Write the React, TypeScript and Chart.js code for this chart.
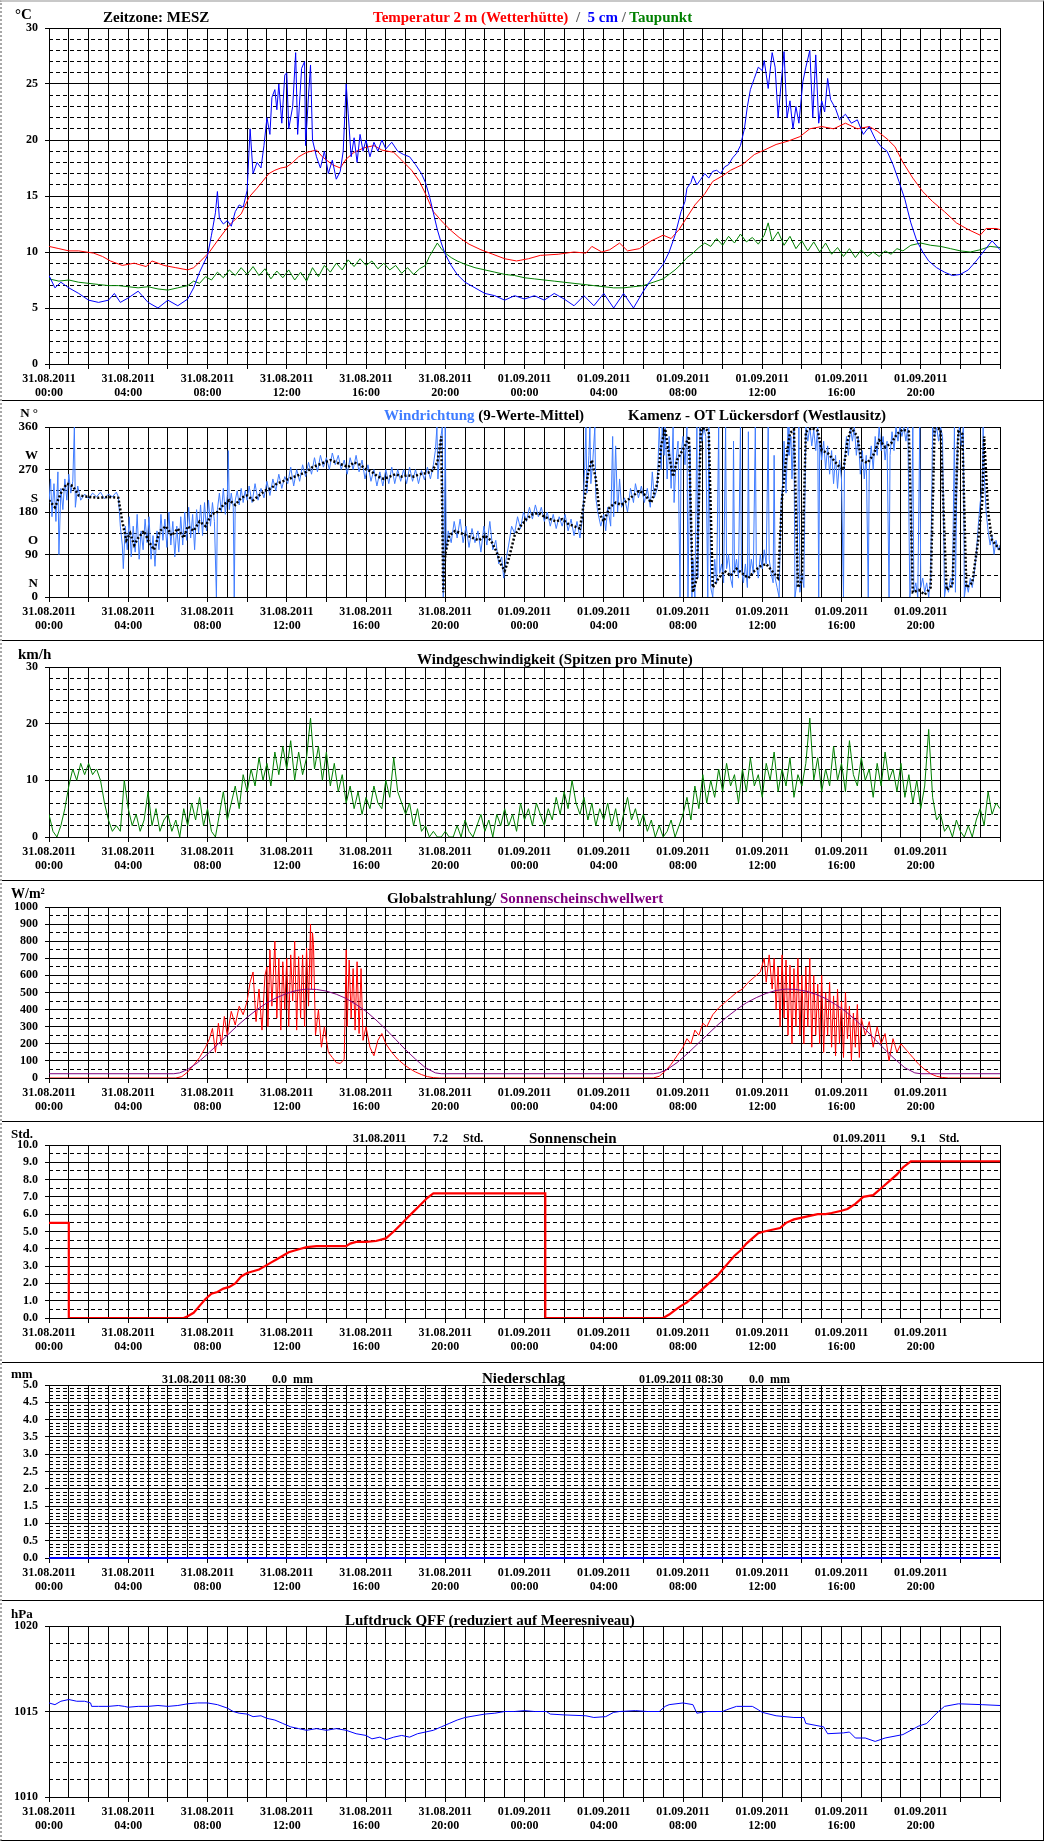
import React, { useEffect, useRef } from 'react';
import { Chart, registerables } from 'chart.js';
Chart.register(...registerables);

const FONT = '"Liberation Serif", "Times New Roman", serif';
const W = 1052;
const PLOT_LEFT = 49;
const PLOT_RIGHT = 1000;
const DIR_BLUE = '#3f7cff';

// ---------- tick labels ----------
const X_TICK_HOURS = [0, 4, 8, 12, 16, 20, 24, 28, 32, 36, 40, 44];
const X_TICK_DATES = ['31.08.2011', '31.08.2011', '31.08.2011', '31.08.2011', '31.08.2011', '31.08.2011',
  '01.09.2011', '01.09.2011', '01.09.2011', '01.09.2011', '01.09.2011', '01.09.2011'];
const X_TICK_TIMES = ['00:00', '04:00', '08:00', '12:00', '16:00', '20:00', '00:00', '04:00', '08:00', '12:00', '16:00', '20:00'];
const DIR_TICKS = [0, 90, 180, 270, 360];
const DIR_LETTERS = ['N', 'O', 'S', 'W', 'N °'];

type Pt = [number, number];

// ---------- Panel 1: temperatures (hour, °C) ----------
const TEMP_2M: Pt[] = [[0,10.5],[0.5,10.3],[1,10.1],[1.5,10.1],[2.25,9.9],[2.7,9.6],[3.1,9.2],[3.7,8.8],[4.3,9.0],[4.9,8.7],[5.2,9.2],[5.5,9.0],[5.8,8.8],[6.4,8.6],[7.0,8.4],[7.3,8.6],[7.6,9.1],[8.1,10.0],[8.5,11.0],[9.1,12.4],[9.7,13.4],[10.1,14.9],[10.5,15.7],[11.1,17.0],[11.4,17.3],[11.7,17.5],[12.0,17.6],[12.3,18.0],[12.6,18.5],[13.0,18.9],[13.5,19.1],[13.8,18.5],[14.3,17.8],[14.7,17.5],[15.0,18.3],[15.4,18.9],[15.9,19.3],[16.4,19.5],[16.8,19.1],[17.4,18.9],[17.8,18.2],[18.3,17.3],[18.7,16.3],[19.0,15.2],[19.4,13.6],[19.9,12.6],[20.3,11.9],[20.7,11.3],[21.2,10.7],[21.8,10.2],[22.4,9.8],[23.0,9.4],[23.6,9.2],[24.2,9.4],[24.8,9.7],[25.7,9.8],[26.5,10.0],[27.1,9.9],[27.4,10.5],[27.9,10.0],[28.3,10.2],[28.8,10.8],[29.2,10.1],[29.8,10.3],[30.4,11.0],[31.0,11.5],[31.4,11.2],[31.8,12.0],[32.2,13.1],[32.6,14.2],[33.1,15.2],[33.5,16.3],[34.0,16.8],[34.4,17.3],[35.0,17.8],[35.6,18.7],[36.1,19.1],[36.7,19.6],[37.3,19.9],[37.9,20.3],[38.4,21.0],[39.0,21.2],[39.6,21.0],[40.2,21.5],[40.8,21.0],[41.4,21.2],[41.8,20.8],[42.3,20.1],[42.7,19.4],[43.1,18.0],[43.6,16.6],[44.1,15.4],[44.6,14.5],[45.2,13.6],[45.8,12.6],[46.4,12.0],[47.0,11.5],[47.3,12.1],[47.8,12.1],[48.0,12.0]];

const TEMP_5CM: Pt[] = [[0,7.9],[0.3,6.8],[0.6,7.3],[1.0,6.8],[1.5,6.3],[2.0,5.7],[2.5,5.5],[3.0,5.7],[3.3,6.3],[3.6,5.5],[4.0,5.9],[4.5,6.5],[5.0,5.5],[5.5,5.0],[6.0,5.7],[6.5,5.2],[7.0,5.8],[7.3,6.8],[7.6,8.2],
  [8.0,9.7],[8.2,11.5],[8.4,13.5],[8.5,15.4],[8.6,13],[8.8,12.5],[9.0,12.8],[9.2,12.3],[9.4,13.6],[9.6,14.2],[9.8,14.0],[10.0,15.5],[10.15,21.0],[10.3,17.0],[10.5,18.0],[10.7,17.5],[10.85,19.5],[11.0,22.0],[11.15,20.5],[11.25,23.8],[11.4,24.5],[11.5,22.7],[11.6,25.0],[11.75,21.5],[11.9,25.8],[12.0,26.0],[12.1,21.0],[12.3,23],[12.45,27.8],[12.55,20.5],[12.75,26.4],[12.9,27.0],[12.95,19.5],[13.1,24],[13.2,26.7],[13.3,20],[13.5,18.5],[13.7,17.5],[13.9,19],[14.1,17],[14.3,18.2],[14.5,16.5],[14.7,17.2],[14.85,19],[15.0,25.0],[15.1,22.4],[15.25,18.5],[15.4,20.2],[15.55,18],[15.7,20.5],[15.85,19],[16.0,20],[16.2,18.5],[16.4,19.8],[16.6,19],[16.8,20],[17.0,19.2],[17.3,19.8],[17.6,19],[17.9,18.7],[18.2,18.5],[18.5,17.8],[18.8,17],[19.0,16.2],[19.2,15],[19.4,13.5],[19.6,12],[19.8,10.8],[20.0,9.8],[20.3,8.8],[20.6,8.0],[21.0,7.3],
  [21.5,6.8],[22.0,6.3],[22.5,6.1],[23.0,5.7],[23.5,6.1],[24.0,5.8],[24.5,6.1],[25.0,5.7],[25.5,6.3],[26.0,5.8],[26.5,5.2],[27.0,6.1],[27.5,5.2],[28.0,6.3],[28.5,5.0],[29.0,6.3],[29.5,5.0],
  [30.0,6.5],[30.3,7.3],[30.7,8.2],[31.0,8.9],[31.3,10],[31.6,11.5],[31.9,13.6],[32.1,14.5],[32.2,15.7],[32.4,16.2],[32.5,16.8],[32.7,16.0],[32.9,16.5],[33.1,17],[33.3,16.6],[33.5,17.2],[33.7,17.3],[33.9,17.0],[34.1,17.6],[34.3,17.8],[34.5,18.4],[34.7,18.8],[34.9,19.5],[35.1,21],[35.25,23.0],[35.4,24.5],[35.6,25.5],[35.8,26.5],[36.0,26.2],[36.1,27.1],[36.3,24.6],[36.5,27.8],[36.65,26.5],[36.8,22.0],[36.95,25],[37.1,27.9],[37.25,22],[37.4,23.5],[37.55,21.0],[37.7,23],[37.85,21.5],[38.05,25.2],[38.2,26.5],[38.4,28.0],[38.55,22],[38.7,27.6],[38.85,21.5],[39.0,23.5],[39.15,22.5],[39.3,25.5],[39.45,23.6],[39.7,22.8],[39.9,21.8],[40.2,22.3],[40.5,21.5],[40.8,21.8],[41.1,20.5],[41.4,21.2],[41.7,20.1],[42.0,19.4],[42.3,19.0],[42.6,17.8],[42.9,16.3],[43.2,14.7],[43.5,12.6],[43.8,11],[44.1,10],[44.4,9.2],[44.8,8.6],[45.2,8.2],[45.6,7.9],[46.0,8.0],[46.4,8.4],[46.8,9.2],[47.2,10.1],[47.6,11.0],[48.0,10.2]];

const DEW_POINT: Pt[] = [[0,7.6],[0.5,7.4],[1,7.5],[1.5,7.3],[2,7.2],[2.5,7.1],[3,7.0],[3.5,7.0],[4,6.9],[4.5,6.8],[5,6.9],[5.5,6.7],[6,6.6],[6.5,6.8],[7,7.0],[7.3,7.4],[7.6,7.2],[7.9,7.8],[8.2,7.5],[8.5,8.2],[8.8,7.7],[9.1,8.4],[9.4,7.9],[9.7,8.6],[10,8.0],[10.3,8.7],[10.6,7.9],[10.9,8.5],[11.2,7.6],[11.5,8.3],[11.8,7.7],[12.1,8.4],[12.4,7.5],[12.7,8.2],[13,7.4],[13.3,8.6],[13.6,7.8],[13.9,8.8],[14.2,8.2],[14.5,9.0],[14.8,8.4],[15.1,9.3],[15.4,8.7],[15.7,9.4],[16,8.8],[16.3,9.2],[16.6,8.5],[16.9,9.0],[17.2,8.4],[17.5,8.8],[17.8,8.1],[18.1,8.6],[18.4,8.0],[18.7,8.5],[19.0,8.8],[19.2,9.6],[19.4,10.2],[19.6,10.8],[19.8,10.3],[20,9.9],[20.3,9.5],[20.6,9.2],[21,8.9],[21.5,8.6],[22,8.4],[22.5,8.2],[23,8.0],[23.5,7.9],[24,7.7],[24.5,7.6],[25,7.5],[25.5,7.4],[26,7.3],[26.5,7.2],[27,7.1],[27.5,7.0],[28,6.9],[28.5,6.8],[29,6.8],[29.5,6.9],[30,7.0],[30.5,7.3],[31,7.6],[31.3,8.0],[31.6,8.4],[31.9,8.9],[32.2,9.5],[32.5,9.9],[32.8,10.4],[33.1,10.8],[33.4,10.5],[33.7,11.2],[34,10.6],[34.3,11.4],[34.6,10.8],[34.9,11.6],[35.2,10.9],[35.5,11.3],[35.8,10.7],[36.1,11.5],[36.3,12.6],[36.5,11.0],[36.8,11.8],[37.1,10.6],[37.4,11.4],[37.7,10.3],[38,11.0],[38.3,10.1],[38.6,10.9],[38.9,10.0],[39.2,10.8],[39.5,9.8],[39.8,10.4],[40.1,9.6],[40.4,10.3],[40.7,9.5],[41,10.2],[41.3,9.6],[41.6,10.0],[41.9,9.6],[42.2,10.1],[42.5,9.8],[42.8,10.3],[43.1,10.1],[43.5,10.6],[44,10.8],[44.5,10.6],[45,10.5],[45.5,10.3],[46,10.1],[46.5,10.0],[47,10.2],[47.5,10.5],[48,10.4]];

// ---------- Panel 2: wind direction (hour, °) ----------
const WIND_DIR_RAW: Pt[] = [[0,200],[0.08,250],[0.15,170],[0.25,240],[0.35,160],[0.45,265],[0.5,90],[0.6,230],[0.7,185],[0.8,250],[0.9,205],[1.0,260],[1.1,220],[1.2,245],[1.28,360],[1.33,190],[1.45,235],[1.6,205],
  [1.8,218],[2.0,208],[2.2,220],[2.4,212],[2.6,222],[2.8,208],[3.0,218],[3.2,212],[3.4,222],[3.5,212],
  [3.6,150],[3.7,110],[3.75,60],[3.85,150],[3.95,100],[4.05,170],[4.15,85],[4.25,150],[4.35,95],[4.45,175],[4.55,80],[4.65,140],[4.75,100],[4.85,165],[4.95,115],[5.05,170],[5.15,80],[5.25,130],[5.35,65],[5.45,140],[5.55,100],[5.65,175],[5.75,120],[5.85,165],[5.95,105],[6.05,180],[6.15,110],[6.25,160],[6.35,85],[6.45,150],[6.55,95],[6.65,170],[6.75,110],[6.85,180],[6.95,120],[7.05,190],[7.15,125],[7.25,175],[7.35,100],[7.45,185],[7.55,135],[7.65,195],[7.75,130],[7.85,200],[7.95,140],[8.05,205],[8.15,150],[8.25,200],[8.35,160],[8.45,0],[8.5,185],[8.6,220],[8.7,180],[8.8,230],[8.9,175],[9.0,215],[9.05,310],[9.1,185],[9.2,220],[9.3,190],[9.35,0],[9.4,205],[9.5,225],[9.6,195],[9.7,230],[9.8,200],[9.9,225],[10.0,205],[10.1,235],
  [10.25,200],[10.4,240],[10.55,205],[10.7,230],[10.85,210],[11.0,245],[11.15,215],[11.3,250],[11.45,225],[11.6,260],[11.75,230],[11.9,255],[12.05,240],[12.2,275],[12.35,235],[12.5,270],[12.65,245],[12.8,280],[12.95,255],[13.1,285],[13.25,260],[13.4,295],[13.55,265],[13.7,300],[13.85,275],[14.0,295],[14.15,270],[14.3,305],[14.45,280],[14.6,300],[14.75,270],[14.9,290],[15.05,260],[15.2,295],[15.35,270],[15.5,300],[15.65,265],[15.8,290],[15.95,250],[16.1,280],[16.25,245],[16.4,270],[16.55,235],[16.7,265],[16.85,235],[17.0,270],[17.15,240],[17.3,275],[17.45,240],[17.6,270],[17.75,245],[17.9,270],[18.05,240],[18.2,275],[18.35,245],[18.5,270],[18.65,240],[18.8,268],[18.95,248],[19.1,275],[19.25,250],[19.4,280],[19.5,310],[19.58,360],[19.63,250],[19.75,330],[19.85,360],[19.9,0],[19.95,110],[20.0,360],[20.05,100],
  [20.15,140],[20.3,115],[20.45,160],[20.6,125],[20.75,165],[20.9,115],[21.05,150],[21.2,105],[21.35,145],[21.5,115],[21.65,140],[21.8,95],[21.95,150],[22.1,110],[22.25,160],[22.4,100],[22.55,120],[22.7,70],[22.85,85],[22.95,40],[23.05,75],[23.2,110],[23.35,150],[23.5,135],[23.65,170],[23.8,145],[23.95,180],
  [24.1,160],[24.25,190],[24.4,165],[24.55,195],[24.7,170],[24.85,190],[25.0,160],[25.15,180],[25.3,150],[25.45,175],[25.6,145],[25.75,170],[25.9,150],[26.05,175],[26.2,140],[26.35,165],[26.5,130],[26.65,160],[26.8,125],[26.95,175],[27.05,290],[27.1,360],[27.15,220],[27.25,300],[27.3,360],[27.35,240],[27.45,290],[27.55,360],[27.6,210],[27.7,180],[27.85,150],[28.0,175],[28.1,140],[28.2,190],[28.35,150],[28.45,340],[28.5,170],[28.6,320],[28.7,180],[28.8,250],[28.9,190],[29.05,210],[29.2,180],[29.35,230],[29.5,200],[29.6,240],[29.75,210],[29.9,235],[30.05,200],[30.2,230],[30.35,190],[30.45,265],[30.55,210],[30.7,230],[30.8,360],[30.9,270],[30.95,360],[31.05,300],[31.1,360],[31.2,250],[31.3,340],[31.4,230],[31.5,360],[31.55,200],[31.65,290],
  [31.75,330],[31.85,0],[31.9,300],[32.0,340],[32.1,280],[32.2,360],[32.25,0],[32.35,320],[32.45,0],[32.5,80],[32.6,0],[32.7,360],[32.75,40],[32.85,360],[32.95,330],[33.05,360],[33.15,340],[33.25,0],[33.3,360],[33.4,20],[33.5,0],[33.6,80],[33.7,30],[33.8,360],[33.85,50],[33.95,70],[34.05,30],[34.15,360],[34.2,60],[34.3,90],[34.4,40],[34.5,20],[34.55,330],[34.6,50],[34.7,80],[34.8,40],[34.9,360],[34.95,60],[35.05,30],[35.15,70],[35.25,20],[35.3,350],[35.35,40],[35.45,80],[35.55,50],[35.65,360],[35.7,70],[35.8,40],[35.9,90],[36.0,60],[36.1,100],[36.2,70],[36.3,360],[36.35,80],[36.45,50],[36.55,30],[36.6,300],[36.65,40],[36.75,20],[36.85,0],[36.95,200],[37.05,250],[37.1,330],[37.2,220],[37.3,360],[37.35,300],[37.45,340],[37.5,250],[37.6,360],[37.65,0],[37.75,30],[37.85,360],[37.9,10],[38.0,50],[38.1,20],[38.2,360],[38.3,330],[38.4,360],[38.5,320],[38.6,355],[38.7,310],[38.8,360],[38.85,0],[38.9,330],[39.0,290],[39.1,330],[39.2,270],[39.3,320],[39.4,260],[39.5,310],[39.6,240],[39.7,300],[39.8,230],[39.9,290],[40.0,250],[40.1,0],[40.15,280],[40.25,340],[40.35,300],[40.45,360],[40.55,330],[40.65,360],[40.75,300],[40.85,340],[40.95,260],[41.05,310],[41.15,250],[41.25,300],[41.35,0],[41.4,270],[41.5,320],[41.6,270],[41.7,340],[41.8,300],[41.9,360],[42.0,310],[42.1,340],[42.2,290],[42.3,330],[42.4,0],[42.45,300],[42.55,350],[42.65,310],[42.75,360],[42.85,330],[42.95,360],[43.05,340],[43.15,360],[43.25,330],[43.35,360],[43.45,0],[43.5,20],[43.6,360],[43.65,10],[43.75,30],[43.85,0],[43.95,360],[44.0,20],[44.1,40],[44.2,10],[44.3,30],[44.4,0],[44.5,40],[44.6,360],[44.7,340],[44.8,360],[44.9,330],[45.0,360],[45.1,340],[45.2,0],[45.3,30],[45.4,10],[45.5,40],[45.6,20],[45.7,360],[45.75,10],[45.85,330],[45.95,360],[46.05,320],[46.15,360],[46.2,0],[46.3,30],[46.4,10],[46.5,40],[46.6,20],[46.7,50],[46.8,90],[46.9,150],[47.0,200],[47.1,230],[47.15,360],[47.2,260],[47.3,180],[47.4,140],[47.5,110],[47.6,130],[47.7,90],[47.8,120],[47.9,100],[48.0,110]];

const WIND_DIR_MEAN: Pt[] = [[0,205],[0.3,190],[0.6,220],[0.9,240],[1.2,235],[1.5,215],[2,212],[2.5,210],[3,212],[3.5,210],[3.7,160],[3.9,120],[4.1,135],[4.3,110],[4.5,125],[4.8,140],[5.0,120],[5.3,100],[5.6,140],[5.9,150],[6.2,130],[6.5,145],[6.8,125],[7.0,150],[7.3,140],[7.6,160],[7.9,150],[8.2,175],[8.5,180],[8.8,195],[9.1,205],[9.4,195],[9.7,210],[10,215],[10.3,205],[10.6,215],[10.9,225],[11.2,230],[11.5,240],[11.8,245],[12.1,250],[12.4,255],[12.7,260],[13,265],[13.3,275],[13.6,280],[13.9,285],[14.2,290],[14.5,285],[14.8,280],[15.1,275],[15.4,285],[15.7,280],[16,270],[16.3,265],[16.6,255],[16.9,250],[17.2,255],[17.5,260],[17.8,255],[18.1,258],[18.4,255],[18.7,260],[19,262],[19.3,265],[19.6,285],[19.8,340],[19.9,10],[20.0,90],[20.2,130],[20.5,140],[20.8,135],[21.1,130],[21.4,125],[21.7,120],[22,130],[22.3,120],[22.6,95],[22.8,70],[23,55],[23.2,80],[23.5,130],[23.8,150],[24.1,165],[24.4,175],[24.7,178],[25,170],[25.3,165],[25.6,160],[25.9,165],[26.2,155],[26.5,150],[26.8,145],[27.0,200],[27.2,260],[27.4,290],[27.6,250],[27.8,175],[28.0,160],[28.3,190],[28.6,200],[28.9,195],[29.2,205],[29.5,215],[29.8,225],[30.1,215],[30.4,200],[30.7,240],[30.9,320],[31.1,356],[31.3,300],[31.5,255],[31.7,290],[31.9,305],[32.1,320],[32.3,340],[32.5,10],[32.7,40],[32.9,355],[33.1,358],[33.3,350],[33.5,20],[33.8,40],[34.1,55],[34.4,45],[34.7,60],[35,50],[35.3,40],[35.6,55],[35.9,65],[36.2,70],[36.5,55],[36.8,40],[37.0,210],[37.2,290],[37.4,347],[37.6,355],[37.8,20],[38.0,35],[38.2,350],[38.5,358],[38.8,352],[39.0,310],[39.3,305],[39.6,290],[39.9,275],[40.1,270],[40.3,330],[40.5,358],[40.8,340],[41.0,290],[41.3,284],[41.6,300],[41.9,332],[42.2,318],[42.5,325],[42.8,345],[43.1,355],[43.4,350],[43.6,10],[43.9,15],[44.2,5],[44.5,20],[44.7,358],[45.0,355],[45.3,15],[45.6,25],[45.9,350],[46.1,345],[46.3,20],[46.6,30],[46.9,120],[47.1,200],[47.2,340],[47.4,180],[47.6,120],[47.8,110],[48,100]];

// ---------- Panel 3: wind speed (km/h), one value every 0.2 h ----------
const WIND_SPEED_STEP_H = 0.2;
const WIND_SPEED: number[] = [
  4,1,0,2,5, 9,12,10,13,11, 13,11,12,10,6, 3,1,2,1,10, 5,2,4,1,3, 8,2,5,1,3, 4,1,3,0,5, 2,6,3,7,2,
  5,1,0,4,8, 3,6,9,5,11, 8,12,9,14,10, 13,9,15,11,16, 12,17,10,15,11, 14,21,12,16,10, 15,9,13,8,11, 6,9,5,8,4,
  7,5,9,6,5, 10,7,14,8,6, 4,6,2,5,1, 2,0,1,0,0, 1,0,0,2,0, 3,1,0,2,4, 1,3,0,4,2, 5,2,4,1,6,
  3,5,2,6,4, 2,5,3,7,4, 8,5,10,6,4, 7,3,6,2,5, 3,6,2,5,1, 4,7,3,5,2, 4,1,3,0,2, 0,1,3,0,2,
  4,7,3,9,5, 11,6,10,7,12, 8,13,9,11,6, 12,8,14,9,11, 7,13,10,15,8, 12,9,14,7,11, 9,13,21,10,14, 8,12,9,16,10,
  13,8,17,11,9, 14,10,12,7,13, 9,15,10,12,8, 13,7,11,6,10, 5,9,19,7,3, 4,1,2,0,3, 1,0,2,0,3, 5,2,8,4,6, 5];

// ---------- Panel 4: global radiation (W/m²) ----------
const GLOBAL_RAD: Pt[] = [[0,0],[6.4,0],[6.7,8],[7.0,35],[7.3,75],[7.6,120],[7.9,180],[8.1,230],[8.25,290],[8.4,150],[8.55,320],[8.7,190],[8.85,360],[9.0,250],[9.2,390],[9.4,310],[9.6,420],[9.8,370],[10.0,450],[10.15,560],[10.3,620],[10.45,330],[10.6,520],[10.75,280],[10.9,600],[11.0,650],[11.05,300],[11.15,750],[11.25,420],[11.4,800],[11.5,350],[11.6,700],[11.7,280],[11.8,680],[11.9,400],[12.0,700],[12.1,300],[12.2,720],[12.3,450],[12.4,800],[12.5,280],[12.6,710],[12.7,350],[12.8,720],[12.9,300],[13.0,760],[13.1,420],[13.2,900],[13.25,520],[13.3,850],[13.35,780],[13.45,250],[13.6,400],[13.75,180],[13.9,300],[14.1,150],[14.3,120],[14.5,90],[14.7,85],[14.9,110],[15.0,750],[15.05,300],[15.15,690],[15.25,350],[15.35,640],[15.45,280],[15.55,680],[15.65,260],[15.75,640],[15.85,220],[16.0,300],[16.2,180],[16.4,130],[16.6,220],[16.8,260],[17.0,200],[17.3,150],[17.6,110],[17.9,80],[18.2,55],[18.5,35],[18.8,20],[19.1,8],[19.4,2],[19.7,0],
  [30.5,0],[30.8,10],[31.1,40],[31.4,80],[31.7,130],[32.0,180],[32.2,230],[32.4,200],[32.6,280],[32.8,250],[33.0,320],[33.2,300],[33.5,370],[33.8,410],[34.1,440],[34.4,470],[34.7,500],[35.0,520],[35.3,560],[35.6,590],[35.9,620],[36.1,700],[36.2,560],[36.35,720],[36.5,520],[36.6,700],[36.7,400],[36.8,650],[36.9,300],[37.0,720],[37.1,350],[37.2,690],[37.3,250],[37.4,660],[37.5,200],[37.6,640],[37.7,300],[37.8,700],[37.9,250],[38.0,600],[38.1,200],[38.2,650],[38.3,300],[38.4,700],[38.5,180],[38.6,600],[38.7,250],[38.8,550],[38.9,200],[39.0,600],[39.1,150],[39.2,500],[39.3,250],[39.4,560],[39.5,180],[39.6,480],[39.7,130],[39.8,520],[39.9,200],[40.0,450],[40.1,120],[40.2,500],[40.3,230],[40.4,420],[40.5,100],[40.6,380],[40.7,180],[40.8,430],[40.9,120],[41.0,350],[41.2,250],[41.4,330],[41.6,180],[41.8,300],[42.0,200],[42.2,260],[42.4,100],[42.6,230],[42.8,150],[43.0,200],[43.3,160],[43.6,120],[43.9,80],[44.2,50],[44.5,25],[44.8,10],[45.1,3],[45.4,0],[48,0]];

const SUN_THRESHOLD: Pt[] = [[0,25],[6.3,25],[6.6,30],[7.0,50],[7.5,90],[8.0,140],[8.5,195],[9.0,250],[9.5,305],[10.0,355],[10.5,400],[11.0,440],[11.5,470],[12.0,495],[12.5,512],[13.0,520],[13.5,518],[14.0,508],[14.5,490],[15.0,465],[15.5,430],[16.0,390],[16.5,340],[17.0,285],[17.5,225],[18.0,165],[18.5,110],[19.0,60],[19.5,30],[19.8,25],
  [30.5,25],[30.8,30],[31.2,50],[31.7,90],[32.2,140],[32.7,195],[33.2,250],[33.7,305],[34.2,355],[34.7,400],[35.2,440],[35.7,470],[36.2,495],[36.7,512],[37.2,520],[37.7,518],[38.2,508],[38.7,490],[39.2,465],[39.7,430],[40.2,390],[40.7,340],[41.2,285],[41.7,225],[42.2,165],[42.7,110],[43.2,60],[43.7,30],[44.0,25],[48,25]];

// ---------- Panel 5: sunshine duration (h, cumulative) ----------
const SUNSHINE: Pt[] = [[0,5.5],[1.0,5.5],[1.0,0],[6.8,0],[7.0,0.1],[7.3,0.3],[7.6,0.7],[7.9,1.1],[8.2,1.4],[8.5,1.5],[8.8,1.7],[9.1,1.8],[9.4,2.0],[9.7,2.4],[10.0,2.6],[10.3,2.7],[10.6,2.8],[10.9,3.0],[11.2,3.2],[11.5,3.4],[11.8,3.6],[12.1,3.8],[12.4,3.9],[12.7,4.0],[13.0,4.1],[13.5,4.15],[14.0,4.15],[14.5,4.15],[15.0,4.15],[15.2,4.3],[15.5,4.4],[16.0,4.4],[16.5,4.45],[17.0,4.6],[17.4,5.0],[17.8,5.45],[18.0,5.7],[18.4,6.15],[18.8,6.6],[19.1,6.95],[19.4,7.2],[25.05,7.2],[25.05,0],[31.0,0],[31.3,0.2],[31.6,0.45],[31.9,0.7],[32.2,0.9],[32.5,1.2],[32.8,1.5],[33.1,1.8],[33.4,2.1],[33.7,2.4],[34.0,2.8],[34.3,3.2],[34.6,3.6],[34.9,3.9],[35.2,4.3],[35.5,4.6],[35.8,4.9],[36.1,5.0],[36.5,5.1],[36.9,5.2],[37.2,5.5],[37.6,5.7],[38.0,5.8],[38.4,5.9],[38.8,6.0],[39.2,6.0],[39.5,6.07],[40.0,6.2],[40.3,6.3],[40.7,6.6],[41.1,7.0],[41.6,7.1],[42.0,7.5],[42.4,7.9],[42.8,8.3],[43.1,8.7],[43.5,9.06],[48,9.06]];

// ---------- Panel 6: precipitation (mm) ----------
const PRECIP: Pt[] = [[0,0],[8.5,0],[24,0],[32.5,0],[48,0]];

// ---------- Panel 7: pressure QFF (hPa) ----------
const PRESSURE: Pt[] = [[0,1015.5],[0.3,1015.4],[0.6,1015.6],[1.0,1015.7],[1.4,1015.6],[1.8,1015.6],[2.1,1015.5],[2.15,1015.3],[2.5,1015.3],[3.0,1015.3],[3.5,1015.35],[3.8,1015.3],[4.0,1015.25],[4.5,1015.3],[5.0,1015.3],[5.5,1015.35],[6.0,1015.3],[6.5,1015.35],[7.0,1015.45],[7.5,1015.5],[8.0,1015.5],[8.5,1015.4],[9.0,1015.2],[9.3,1015.0],[9.6,1014.9],[10.0,1014.85],[10.3,1014.7],[10.7,1014.75],[11.0,1014.6],[11.4,1014.5],[11.8,1014.3],[12.2,1014.1],[12.6,1014.0],[13.0,1013.9],[13.5,1014.0],[14.0,1013.9],[14.5,1014.0],[15.0,1013.9],[15.5,1013.7],[16.0,1013.6],[16.3,1013.4],[16.7,1013.5],[17.0,1013.35],[17.4,1013.5],[17.8,1013.6],[18.2,1013.5],[18.6,1013.7],[19.0,1013.8],[19.4,1013.9],[19.8,1014.1],[20.2,1014.3],[20.6,1014.5],[21.0,1014.65],[21.5,1014.75],[22.0,1014.85],[22.5,1014.9],[23.0,1015.0],[23.5,1015.0],[24.0,1015.05],
  [24.5,1015.0],[25.1,1015.0],[25.3,1014.85],[26.0,1014.8],[27.1,1014.75],[27.5,1014.65],[28.1,1014.7],[28.5,1014.95],[28.8,1015.0],[29.6,1015.05],[30.2,1015.0],[30.8,1015.0],[31.1,1015.3],[31.3,1015.4],[32.0,1015.5],[32.5,1015.4],[32.7,1014.9],[33.2,1015.0],[34.0,1015.0],[34.2,1015.1],[34.7,1015.3],[35.5,1015.3],[35.8,1015.1],[36.0,1014.95],[36.7,1014.75],[37.6,1014.65],[38.1,1014.65],[38.2,1014.3],[39.1,1014.1],[39.3,1013.7],[40.1,1013.75],[40.4,1013.8],[40.7,1013.45],[41.2,1013.45],[41.7,1013.25],[42.2,1013.45],[43.1,1013.65],[43.9,1014.15],[44.3,1014.3],[44.8,1014.9],[45.2,1015.3],[45.9,1015.45],[47.1,1015.4],[48,1015.35]];

// ---------- helpers ----------
const xy = (arr: Pt[]) => arr.map(([x, y]) => ({ x, y }));
const xyRegular = (vals: number[], step: number) => vals.map((y, i) => ({ x: i * step, y }));
const line = (data: any[], color: string, width = 1, extra: any = {}) => ({
  data, borderColor: color, backgroundColor: color, borderWidth: width,
  pointRadius: 0, tension: 0, fill: false, yAxisID: 'y', ...extra,
});

const xLabel = (v: number) => {
  const i = X_TICK_HOURS.indexOf(v);
  return i >= 0 ? [X_TICK_DATES[i], X_TICK_TIMES[i]] : '';
};

interface PanelCfg {
  top: number; height: number; plotTop: number; plotBottom: number;
  yMin: number; yMax: number; major: number; minor: number;
  yLabel: (v: number) => any; yFont?: number; yLineHeight?: number;
  datasets: any[];
}

const PANELS: PanelCfg[] = [
  { top: 0, height: 400, plotTop: 28, plotBottom: 364, yMin: 0, yMax: 30, major: 5, minor: 1,
    yLabel: (v) => String(v),
    datasets: [line(xy(TEMP_5CM), '#0000ff'), line(xy(TEMP_2M), '#ff0000'), line(xy(DEW_POINT), '#008000')] },
  { top: 400, height: 240, plotTop: 427, plotBottom: 597, yMin: 0, yMax: 360, major: 90, minor: 45,
    yLabel: (v) => { const i = DIR_TICKS.indexOf(v); return [DIR_LETTERS[i] || '', String(v), '']; },
    yFont: 13, yLineHeight: 1.05,
    datasets: [line(xy(WIND_DIR_MEAN), '#000000', 2.5, { borderDash: [2, 2] }), line(xy(WIND_DIR_RAW), DIR_BLUE)] },
  { top: 640, height: 240, plotTop: 667, plotBottom: 837, yMin: 0, yMax: 30, major: 10, minor: 2,
    yLabel: (v) => String(v),
    datasets: [line(xyRegular(WIND_SPEED, WIND_SPEED_STEP_H), '#008000')] },
  { top: 880, height: 241, plotTop: 907, plotBottom: 1078, yMin: 0, yMax: 1000, major: 100, minor: 50,
    yLabel: (v) => String(v),
    datasets: [line(xy(SUN_THRESHOLD), '#800080'), line(xy(GLOBAL_RAD), '#ff0000')] },
  { top: 1121, height: 241, plotTop: 1145, plotBottom: 1318, yMin: 0, yMax: 10, major: 1, minor: 0.5,
    yLabel: (v) => v.toFixed(1),
    datasets: [line(xy(SUNSHINE), '#ff0000', 2.2)] },
  { top: 1362, height: 238, plotTop: 1385, plotBottom: 1558, yMin: 0, yMax: 5, major: 0.5, minor: 0.1,
    yLabel: (v) => v.toFixed(1),
    datasets: [line(xy(PRECIP), '#0000ff', 2, { clip: false })] },
  { top: 1600, height: 241, plotTop: 1626, plotBottom: 1797, yMin: 1010, yMax: 1020, major: 5, minor: 1,
    yLabel: (v) => String(v),
    datasets: [line(xy(PRESSURE), '#0000ff')] },
];

function PanelChart({ cfg }: { cfg: PanelCfg }) {
  const ref = useRef<HTMLCanvasElement>(null);
  useEffect(() => {
    const canvas = ref.current!;
    const isMajor = (v: number) => Math.abs(v / cfg.major - Math.round(v / cfg.major)) < 1e-6;
    const tickFont = { family: FONT, size: 12, weight: 'bold' as const, lineHeight: 1.15 };
    const chart = new Chart(canvas, {
      type: 'line',
      data: { datasets: cfg.datasets },
      options: {
        responsive: false,
        maintainAspectRatio: false,
        animation: false,
        events: [],
        parsing: false as any,
        layout: { padding: { top: cfg.plotTop - cfg.top, left: 0, right: W - PLOT_RIGHT, bottom: 0 } },
        plugins: { legend: { display: false }, tooltip: { enabled: false }, title: { display: false } },
        scales: {
          x: {
            type: 'linear', min: 0, max: 48,
            afterFit: (s: any) => { s.height = cfg.height - (cfg.plotBottom - cfg.top); s.paddingLeft = 0; s.paddingRight = 0; },
            ticks: {
              stepSize: 1, autoSkip: false, maxRotation: 0, minRotation: 0, padding: 3, maxTicksLimit: 100,
              color: '#000', font: tickFont, callback: (v: any) => xLabel(Number(v)),
            },
            grid: {
              color: '#000', lineWidth: 1, drawTicks: true, tickLength: 5,
              tickColor: (ctx: any) => (ctx.tick && Math.round(ctx.tick.value) % 2 === 0 ? '#000' : 'rgba(0,0,0,0)'),
            },
            border: { display: true, color: '#000' },
          },
          y: {
            type: 'linear', position: 'left', min: cfg.yMin, max: cfg.yMax,
            afterFit: (s: any) => { s.width = PLOT_LEFT; s.paddingTop = 0; s.paddingBottom = 0; },
            ticks: {
              stepSize: cfg.major, autoSkip: false, padding: 7, maxTicksLimit: 1000, color: '#000',
              font: { family: FONT, size: cfg.yFont || 12, weight: 'bold' as const, lineHeight: cfg.yLineHeight || 1.15 },
              callback: (v: any) => cfg.yLabel(Number(v)),
            },
            grid: { color: '#000', lineWidth: 1, drawTicks: true, tickLength: 4, tickColor: '#000' },
            border: { display: true, color: '#000' },
          },
          y2: {
            type: 'linear', position: 'left', min: cfg.yMin, max: cfg.yMax,
            afterFit: (s: any) => { s.width = 0; s.paddingTop = 0; s.paddingBottom = 0; },
            ticks: { display: false, stepSize: cfg.minor, autoSkip: false, maxTicksLimit: 1000 },
            grid: {
              drawTicks: false, lineWidth: 1,
              color: (ctx: any) => (ctx.tick && isMajor(ctx.tick.value) ? 'rgba(0,0,0,0)' : '#000'),
            },
            border: { display: false, dash: [4, 3] },
          },
        },
      } as any,
    });
    return () => chart.destroy();
  }, []);
  return (
    <canvas ref={ref} width={W} height={cfg.height}
      style={{ position: 'absolute', left: 0, top: cfg.top, width: W, height: cfg.height, display: 'block' }} />
  );
}

type TextItem = { x: number; y: number; s?: number; parts: [string, string?][] };
const TEXTS: TextItem[] = [
  { x: 15, y: 14, s: 15, parts: [['°C']] },
  { x: 103, y: 17, s: 15, parts: [['Zeitzone: MESZ']] },
  { x: 373, y: 17, s: 15, parts: [['Temperatur 2 m (Wetterhütte)', '#ff0000'], ['  /  ', '#606060'], ['5 cm', '#0000ff'], [' / ', '#606060'], ['Taupunkt', '#008000']] },
  { x: 384, y: 415, s: 15, parts: [['Windrichtung', DIR_BLUE], [' (9-Werte-Mittel)']] },
  { x: 628, y: 415, s: 15, parts: [['Kamenz - OT Lückersdorf (Westlausitz)']] },
  { x: 18, y: 654, s: 15, parts: [['km/h']] },
  { x: 417, y: 659, s: 15, parts: [['Windgeschwindigkeit (Spitzen pro Minute)']] },
  { x: 11, y: 894, s: 14, parts: [['W/m²']] },
  { x: 387, y: 898, s: 15, parts: [['Globalstrahlung/ '], ['Sonnenscheinschwellwert', '#800080']] },
  { x: 11, y: 1133, s: 13, parts: [['Std.']] },
  { x: 353, y: 1138, s: 12, parts: [['31.08.2011']] },
  { x: 433, y: 1138, s: 12, parts: [['7.2']] },
  { x: 463, y: 1138, s: 12, parts: [['Std.']] },
  { x: 529, y: 1138, s: 15, parts: [['Sonnenschein']] },
  { x: 833, y: 1138, s: 12, parts: [['01.09.2011']] },
  { x: 911, y: 1138, s: 12, parts: [['9.1']] },
  { x: 939, y: 1138, s: 12, parts: [['Std.']] },
  { x: 11, y: 1373, s: 13, parts: [['mm']] },
  { x: 162, y: 1379, s: 12, parts: [['31.08.2011 08:30']] },
  { x: 272, y: 1379, s: 12, parts: [['0.0']] },
  { x: 293, y: 1379, s: 12, parts: [['mm']] },
  { x: 482, y: 1378, s: 15, parts: [['Niederschlag']] },
  { x: 639, y: 1379, s: 12, parts: [['01.09.2011 08:30']] },
  { x: 749, y: 1379, s: 12, parts: [['0.0']] },
  { x: 770, y: 1379, s: 12, parts: [['mm']] },
  { x: 11, y: 1613, s: 13, parts: [['hPa']] },
  { x: 345, y: 1620, s: 15, parts: [['Luftdruck QFF (reduziert auf Meeresniveau)']] },
];

const SEPARATORS = [400, 640, 880, 1121, 1362, 1600];

export default function App() {
  return (
    <div style={{ position: 'absolute', left: 0, top: 0, width: W, height: 1841, background: '#fff', overflow: 'hidden' }}>
      {PANELS.map((p, i) => <PanelChart key={i} cfg={p} />)}
      <div style={{ position: 'absolute', left: 0, top: 0, width: 1044, height: 1841, boxSizing: 'border-box',
        borderLeft: '2px dotted #a8a8a8', borderTop: '2px solid #c8c8c8', borderRight: '1px solid #000',
        borderBottom: '1px solid #000', pointerEvents: 'none' }} />
      {SEPARATORS.map((y) => (
        <div key={y} style={{ position: 'absolute', left: 2, top: y, width: 1041, height: 1, background: '#000' }} />
      ))}
      {TEXTS.map((t, i) => (
        <div key={i} style={{ position: 'absolute', left: t.x, top: t.y, transform: 'translateY(-50%)',
          font: `bold ${t.s || 15}px ${FONT}`, lineHeight: 1, whiteSpace: 'pre', color: '#000' }}>
          {t.parts.map(([txt, col], j) => <span key={j} style={{ color: col || '#000' }}>{txt}</span>)}
        </div>
      ))}
    </div>
  );
}
